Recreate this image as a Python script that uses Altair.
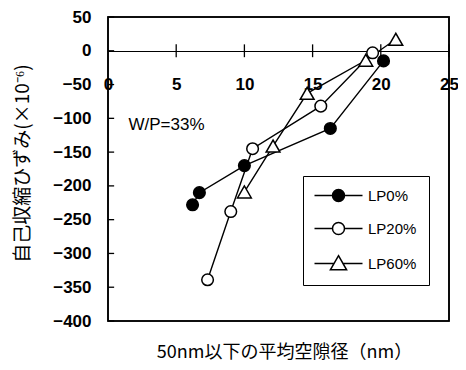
import altair as alt
import pandas as pd

# ---- data ----
series_names = ["LP0%", "LP20%", "LP60%"]
lp0_x = [6.2, 6.7, 10.0, 16.3, 20.2]
lp0_y = [-228, -210, -170, -115, -15]
lp20_x = [7.3, 9.0, 10.6, 15.6, 19.4]
lp20_y = [-339, -238, -145, -82, -3]
lp60_x = [10.0, 12.1, 14.6, 18.9, 21.1]
lp60_y = [-209, -141, -63, -14, 17]

x_ticks = [5, 10, 15, 20, 25]
y_ticks = [-400, -350, -300, -250, -200, -150, -100, -50, 0, 50]
annotation = "W/P=33%"
x_title = "50nm以下の平均空隙径（nm）"
y_title = "自己収縮ひずみ(×10⁻⁶)"

rows = []
for name, xs_, ys_ in [("LP0%", lp0_x, lp0_y), ("LP20%", lp20_x, lp20_y), ("LP60%", lp60_x, lp60_y)]:
    for xv, yv in zip(xs_, ys_):
        rows.append({"series": name, "x": xv, "y": yv})
df = pd.DataFrame(rows)

W, H = 341, 304
xs = alt.Scale(domain=[0, 25], nice=False, zero=False)
ys = alt.Scale(domain=[-400, 50], nice=False, zero=False)
FONT = "Liberation Sans"
JFONT = "Noto Sans CJK JP"

x_axis = alt.Axis(values=[0] + x_ticks, orient="bottom", offset=-270, grid=False,
                  ticks=False, domain=True, domainColor="black", domainWidth=1,
                  labelFont=FONT, labelFontSize=17, labelFontWeight="bold", labelColor="black",
                  labelPadding=25, labelFlush=False, labelOverlap=False,
                  title=x_title, titleFont=JFONT, titleFontSize=18, titleFontWeight="normal",
                  titleColor="black", titleY=301, titleX=176, titleBaseline="middle")
y_axis = alt.Axis(values=y_ticks, orient="left", grid=False, ticks=False, domain=False,
                  labelFont=FONT, labelFontSize=17, labelFontWeight="bold", labelColor="black",
                  labelPadding=17, labelOverlap=False, labelFlush=False,
                  title=y_title, titleFont=JFONT, titleFontSize=19, titleFontWeight="normal",
                  titleColor="black", titleX=-86, titleY=146, titleBaseline="middle")

X0 = alt.X("x:Q", scale=xs, axis=x_axis)
Y0 = alt.Y("y:Q", scale=ys, axis=y_axis)

base = alt.Chart(df)

lines = base.mark_line(color="black", strokeWidth=1.4).encode(
    x=X0, y=Y0, detail="series:N",
)

marker_shapes = {"LP0%": "circle", "LP20%": "circle", "LP60%": "triangle-up"}
marker_fills = {"LP0%": "black", "LP20%": "white", "LP60%": "white"}
marker_sizes = {"LP0%": 135, "LP20%": 135, "LP60%": 190}

point_layers = []
for name in series_names:
    point_layers.append(
        base.transform_filter(alt.datum.series == name).mark_point(
            shape=marker_shapes[name], filled=True, fill=marker_fills[name],
            stroke="black", strokeWidth=1.5, size=marker_sizes[name], opacity=1,
        ).encode(x=X0, y=Y0)
    )

circle_path = "M-4,0H-1M1,0H4M1,0A1,1,0,1,1,-1,0A1,1,0,1,1,1,0Z"
tri_path = "M-4,0H-0.7M0.7,0H4M0,-1.3L1.35,1.05L-1.35,1.05Z"

leg = alt.Legend(title=None, orient="none", legendX=195, legendY=159,
                 strokeColor="black", fillColor="white", padding=12,
                 symbolOpacity=1, symbolStrokeWidth=1.5, symbolSize=144,
                 symbolOffset=16, labelOffset=22, rowPadding=14,
                 labelFont=FONT, labelFontSize=15, labelColor="black")

legend_layer = base.mark_point(filled=False, opacity=0, strokeWidth=1.5, size=144).encode(
    x=X0,
    y=Y0,
    shape=alt.Shape("series:N", scale=alt.Scale(domain=series_names,
                                                range=[circle_path, circle_path, tri_path]),
                    legend=leg),
    fill=alt.Fill("series:N", scale=alt.Scale(domain=series_names,
                                              range=["black", "white", "white"]),
                  legend=leg),
    stroke=alt.Stroke("series:N", scale=alt.Scale(domain=series_names,
                                                  range=["black", "black", "black"]),
                      legend=leg),
)

frame = alt.Chart(pd.DataFrame({"k": [0]})).mark_rect(
    fill="transparent", stroke="black", strokeWidth=1.5
).encode(
    x=alt.XDatum(0, scale=xs, axis=x_axis), x2=alt.datum(25),
    y=alt.YDatum(-400, scale=ys, axis=y_axis), y2=alt.datum(50),
)

xtick_df = pd.DataFrame({"x": x_ticks})
xticks = alt.Chart(xtick_df).mark_rule(color="black", strokeWidth=1.3).encode(
    x=X0, y=alt.YDatum(-9.5, scale=ys, axis=y_axis), y2=alt.datum(9.5)
)
ytick_df = pd.DataFrame({"y": y_ticks})
yticks = alt.Chart(ytick_df).mark_rule(color="black", strokeWidth=1.3).encode(
    y=Y0, x=alt.XDatum(0, scale=xs, axis=x_axis), x2=alt.datum(0.45)
)

ann = alt.Chart(pd.DataFrame({"x": [1.5], "y": [-110], "t": [annotation]})).mark_text(
    align="left", baseline="middle", font=FONT, fontSize=17, color="black"
).encode(x=X0, y=Y0, text="t:N")

chart = alt.layer(frame, lines, xticks, yticks, ann, legend_layer, *point_layers).properties(
    width=W, height=H,
    background="white",
    autosize=alt.AutoSizeParams(type="none"),
    padding={"left": 100, "top": 9, "right": 9, "bottom": 41},
).configure_view(stroke="black", strokeWidth=1.6)

chart.save("out.html", embed_options={"renderer": "svg", "actions": False})
